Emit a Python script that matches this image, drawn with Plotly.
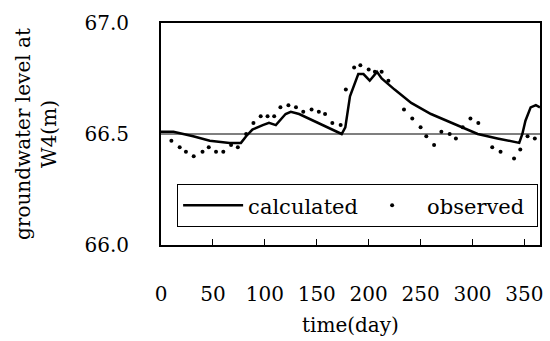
import plotly.graph_objects as go

# calculated series (day, groundwater level m)
calc_day = [0, 12, 31, 47, 66, 77, 82, 88, 98, 104, 110.6, 120, 125, 133, 174,
            177.5, 182, 190, 195, 201, 208, 212.5, 225, 241, 260, 289, 305, 324,
            345, 348, 351, 356, 361, 365]
calc_lvl = [66.51, 66.51, 66.49, 66.47, 66.46, 66.46, 66.49, 66.52, 66.54, 66.55,
            66.54, 66.59, 66.60, 66.59, 66.50, 66.53, 66.67, 66.77, 66.77, 66.74,
            66.78, 66.75, 66.70, 66.64, 66.59, 66.53, 66.50, 66.48, 66.46, 66.50,
            66.56, 66.62, 66.63, 66.62]

# observed series
obs_day = [10, 18, 24, 31.5, 40, 46, 53, 60, 67.5, 74, 82, 89, 96, 102.6, 109, 115,
           122.7, 130, 137, 145, 152, 158, 165, 173, 178, 186, 192, 200, 206, 212.5,
           219, 234, 242, 250, 255.5, 263, 270, 278, 284, 290.6, 298, 305.6, 319,
           327, 340, 346, 353, 360]
obs_lvl = [66.47, 66.44, 66.42, 66.40, 66.42, 66.44, 66.42, 66.42, 66.45, 66.44,
           66.50, 66.55, 66.58, 66.58, 66.58, 66.62, 66.63, 66.62, 66.60, 66.61,
           66.60, 66.59, 66.55, 66.54, 66.70, 66.80, 66.81, 66.79, 66.78, 66.78,
           66.74, 66.61, 66.57, 66.53, 66.49, 66.45, 66.51, 66.50, 66.48, 66.53,
           66.57, 66.55, 66.44, 66.42, 66.39, 66.43, 66.49, 66.48]

x_ticks = [0, 50, 100, 150, 200, 250, 300, 350]
y_ticks = [66.0, 66.5, 67.0]
ref_level = 66.5

FONT = "DejaVu Serif"

fig = go.Figure()
fig.add_trace(go.Scatter(x=calc_day, y=calc_lvl, mode="lines", name="calculated",
                         line=dict(color="black", width=2.5)))
fig.add_trace(go.Scatter(x=obs_day, y=obs_lvl, mode="markers", name="observed",
                         marker=dict(color="black", size=4)))

fig.add_shape(type="line", xref="paper", x0=0, x1=1, yref="y", y0=ref_level, y1=ref_level,
              line=dict(color="black", width=1.2), layer="below")

fig.update_layout(
    width=550, height=341,
    margin=dict(l=161, r=7, t=23, b=96),
    paper_bgcolor="white", plot_bgcolor="white",
    font=dict(family=FONT, color="black", size=20),
    showlegend=True,
    legend=dict(orientation="h", x=0.042, xanchor="left", y=0.275, yanchor="top",
                bordercolor="black", borderwidth=1.2, bgcolor="white",
                font=dict(family=FONT, size=21), itemwidth=60,
                entrywidth=104, entrywidthmode="pixels"),
    xaxis=dict(range=[0, 365], tickvals=x_ticks, showgrid=False, zeroline=False,
               showline=True, linecolor="black", linewidth=2, mirror=True,
               ticks="inside", ticklen=6, tickcolor="black", ticklabelstandoff=30,
               tickfont=dict(size=20)),
    yaxis=dict(range=[66.0, 67.0], tickvals=y_ticks, tickformat=".1f", showgrid=False,
               zeroline=False, showline=True, linecolor="black", linewidth=2, mirror=True,
               ticks="", ticklabelstandoff=26, tickfont=dict(size=20)),
    annotations=[
        dict(text="groundwater level at<br>W4(m)", textangle=-90, xref="paper", yref="paper",
             x=-0.33, y=0.5, xanchor="center", yanchor="middle", showarrow=False,
             font=dict(size=20)),
        dict(text="time(day)", xref="paper", yref="paper", x=0.5, y=-0.36,
             xanchor="center", yanchor="middle", showarrow=False, font=dict(size=20)),
    ],
)

fig.write_html("out.html")
